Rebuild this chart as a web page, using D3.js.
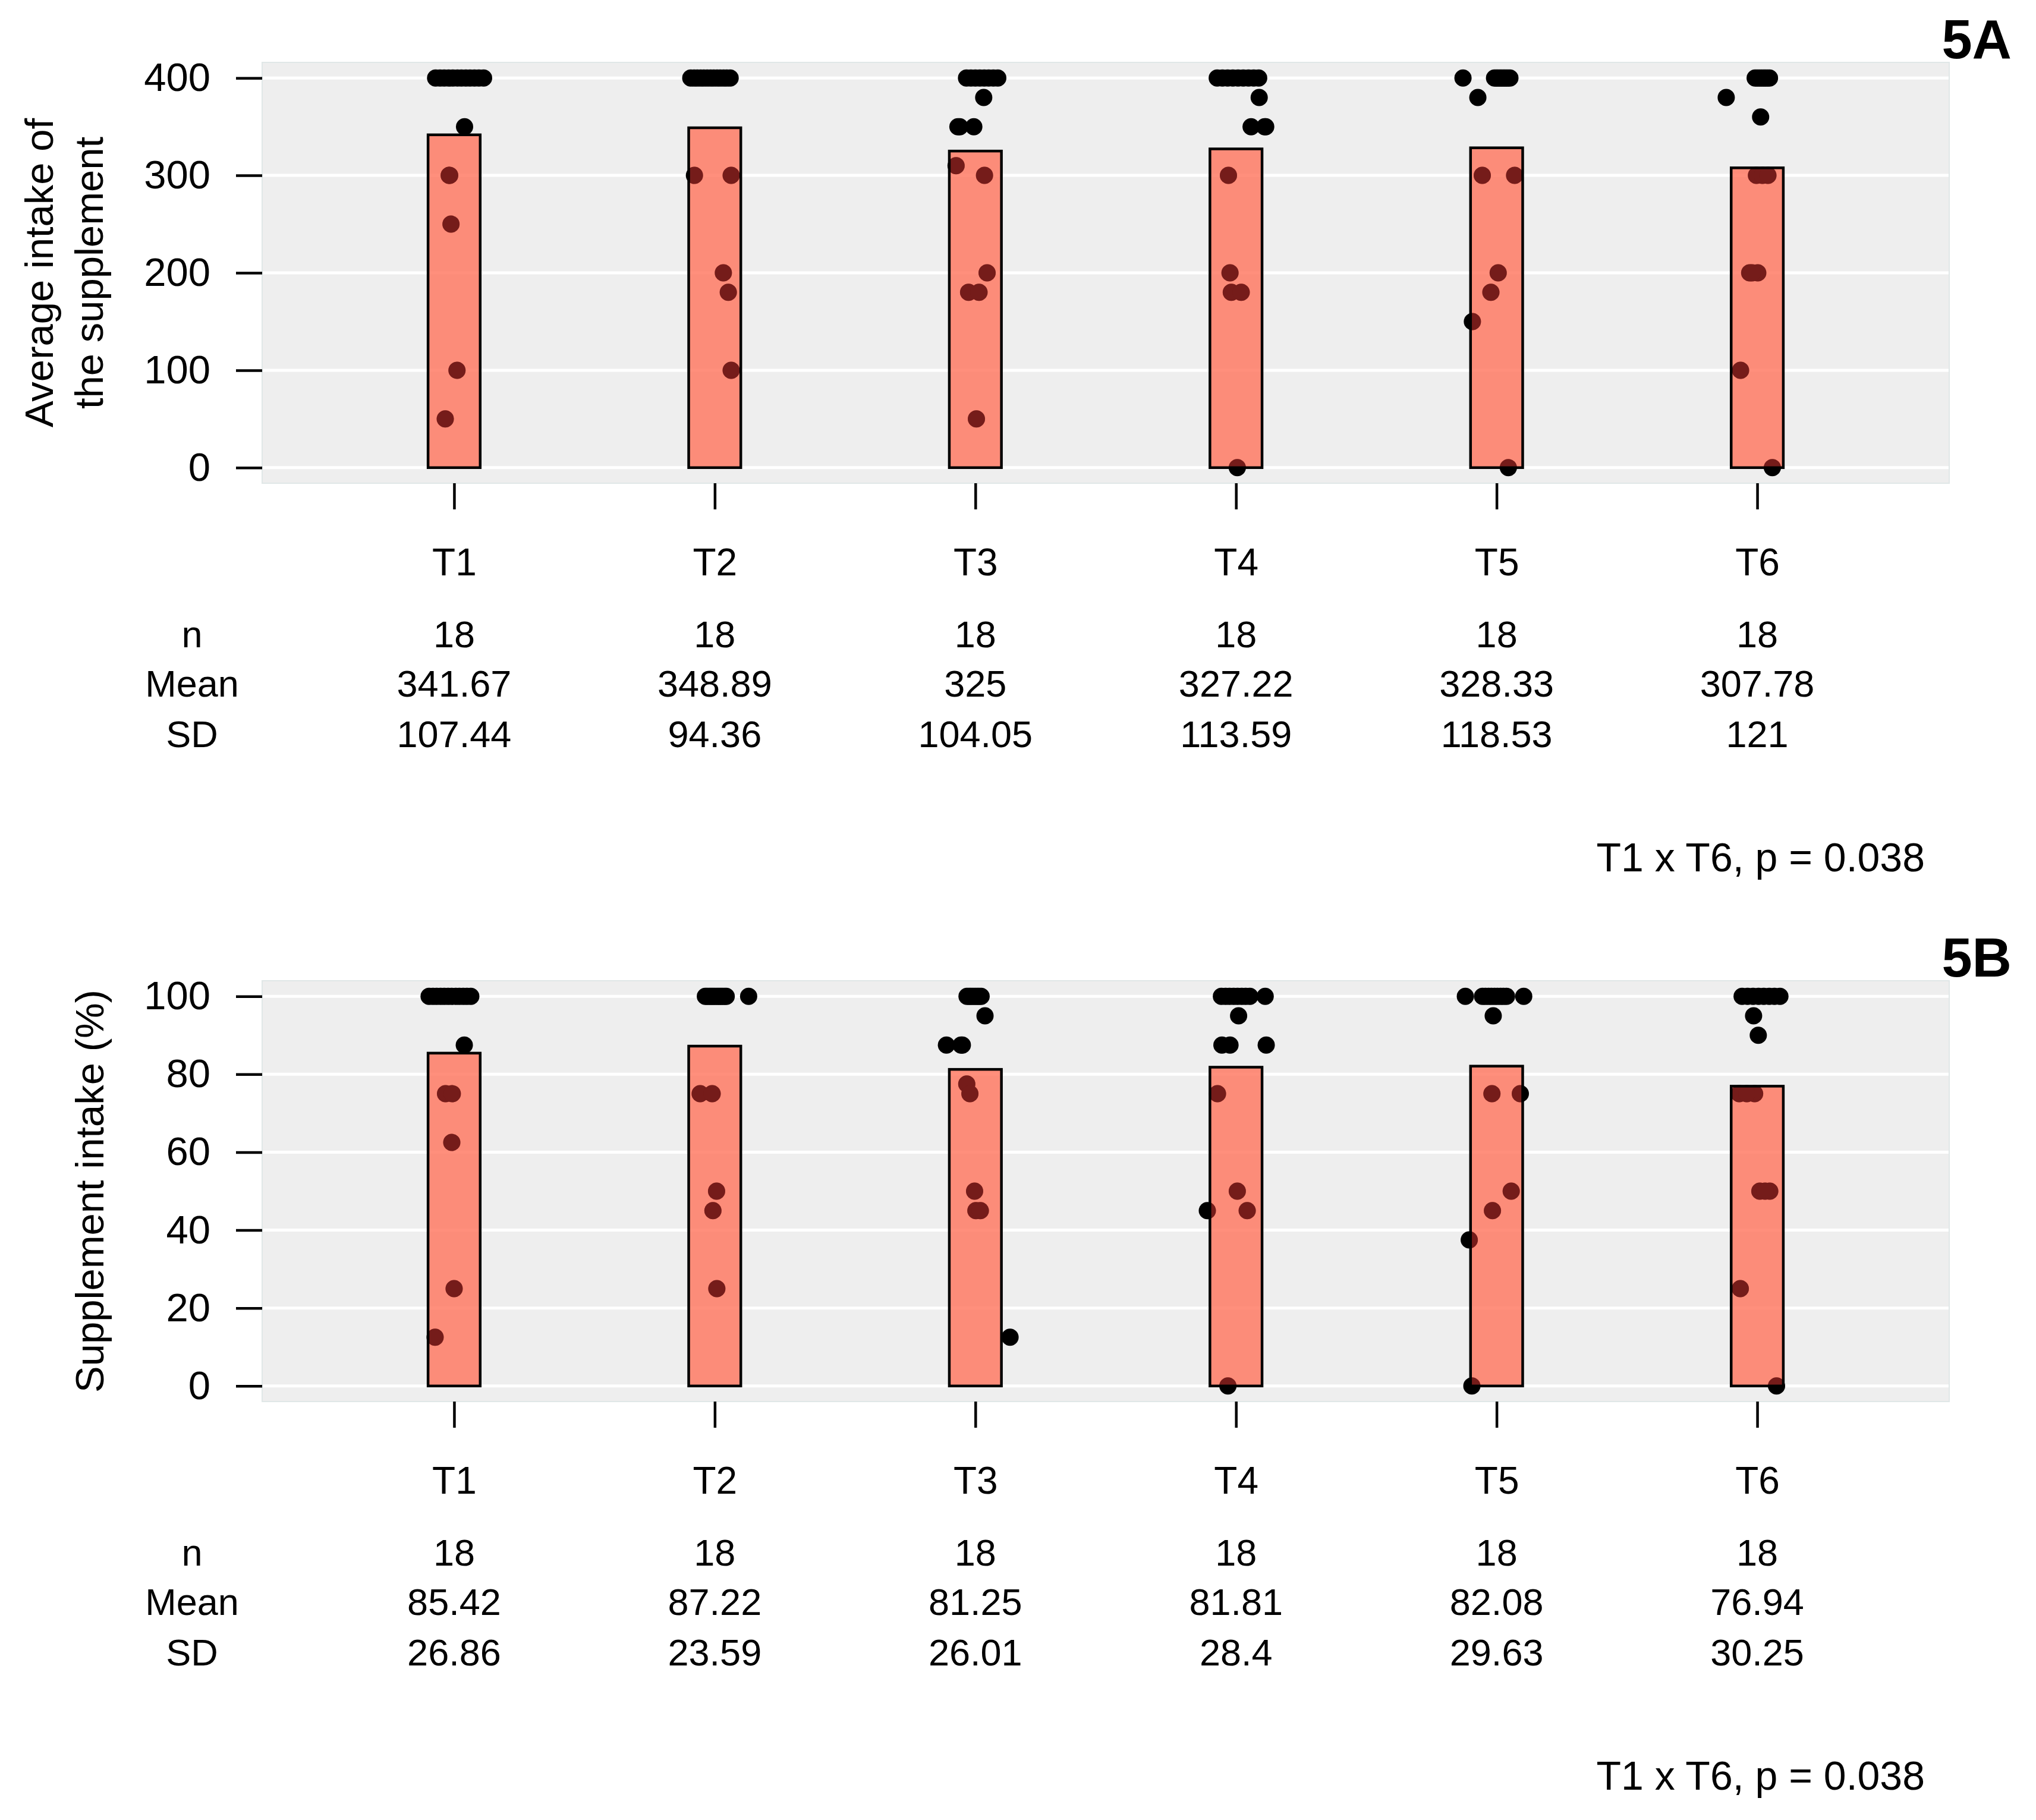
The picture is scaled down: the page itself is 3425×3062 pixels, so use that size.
<!DOCTYPE html>
<html><head><meta charset="utf-8">
<script src="https://cdn.jsdelivr.net/npm/d3@7"></script>
<style>
html,body{margin:0;padding:0;background:#fff;}
svg{display:block;}
text{font-family:"Liberation Sans",Arial,Helvetica,sans-serif;fill:#000;}
</style>
</head><body>
<svg id="chart" width="3425" height="3062"></svg>
<script>
// ---------------- DATA ----------------
const groups = ["T1", "T2", "T3", "T4", "T5", "T6"];

// Panel 5A: average intake of the supplement (individual values per group)
const intakeValues = [
  [400,400,400,400,400,400,400,400,400,400,400,400,350,300,300,250,100,50],
  [400,400,400,400,400,400,400,400,400,400,400,400,400,300,300,200,180,100],
  [400,400,400,400,400,400,400,400,380,350,350,350,310,300,200,180,180,50],
  [400,400,400,400,400,400,400,400,400,380,350,350,350,300,200,180,180,0],
  [400,400,400,400,400,400,400,400,400,400,400,380,300,300,200,180,150,0],
  [400,400,400,400,400,400,400,400,380,360,300,300,300,200,200,200,100,0]
];
// horizontal jitter of each point (in category units)
const intakeJitter = [
  [-0.071,-0.054,-0.038,-0.021,-0.005,0.012,0.028,0.045,0.061,0.078,0.095,0.113,0.040,-0.019,-0.017,-0.012,0.011,-0.034],
  [-0.092,-0.079,-0.067,-0.054,-0.042,-0.029,-0.016,-0.004,0.009,0.021,0.034,0.046,0.059,-0.078,0.063,0.033,0.052,0.063],
  [-0.034,-0.017,0.000,0.017,0.034,0.051,0.069,0.086,0.032,-0.067,-0.006,-0.060,-0.074,0.035,0.045,-0.026,0.014,0.004],
  [-0.072,-0.052,-0.032,-0.012,0.008,0.028,0.048,0.068,0.087,0.089,0.058,0.114,0.110,-0.029,-0.023,-0.018,0.020,0.005],
  [-0.129,-0.008,-0.001,0.005,0.012,0.018,0.025,0.031,0.038,0.044,0.051,-0.072,-0.055,0.069,0.006,-0.022,-0.093,0.045],
  [-0.008,0.000,0.008,0.016,0.024,0.031,0.039,0.047,-0.119,0.013,-0.003,0.020,0.041,-0.029,0.002,-0.020,-0.064,0.058]
];
const intakeN = [18, 18, 18, 18, 18, 18];
const intakeMean = [341.67, 348.89, 325, 327.22, 328.33, 307.78];
const intakeSD = [107.44, 94.36, 104.05, 113.59, 118.53, 121];
const intakeTicks = [0, 100, 200, 300, 400];

// Panel 5B: supplement intake (%)
const pctValues = [
  [100,100,100,100,100,100,100,100,100,100,100,100,87.5,75,75,62.5,25,12.5],
  [100,100,100,100,100,100,100,100,100,100,100,100,100,75,75,50,45,25],
  [100,100,100,100,100,100,100,100,95,87.5,87.5,87.5,77.5,75,50,45,45,12.5],
  [100,100,100,100,100,100,100,100,100,95,87.5,87.5,87.5,75,50,45,45,0],
  [100,100,100,100,100,100,100,100,100,100,100,95,75,75,50,45,37.5,0],
  [100,100,100,100,100,100,100,100,95,90,75,75,75,50,50,50,25,0]
];
const pctJitter = [
  [-0.096,-0.081,-0.067,-0.052,-0.038,-0.023,-0.009,0.006,0.020,0.035,0.049,0.064,0.039,-0.033,-0.007,-0.009,0.000,-0.073],
  [-0.036,-0.029,-0.021,-0.014,-0.007,0.000,0.008,0.015,0.022,0.029,0.037,0.044,0.130,-0.056,-0.010,0.007,-0.007,0.008],
  [-0.032,-0.024,-0.017,-0.009,-0.001,0.007,0.014,0.022,0.037,-0.111,-0.055,-0.050,-0.033,-0.021,-0.003,0.002,0.019,0.133],
  [-0.056,-0.040,-0.025,-0.009,0.006,0.022,0.037,0.053,0.112,0.010,-0.054,-0.023,0.116,-0.071,0.005,-0.110,0.043,-0.031],
  [-0.120,-0.054,-0.043,-0.031,-0.020,-0.008,0.003,0.015,0.026,0.038,0.104,-0.013,-0.018,0.091,0.056,-0.016,-0.105,-0.095],
  [-0.058,-0.037,-0.016,0.005,0.025,0.046,0.066,0.087,-0.014,0.004,-0.069,-0.010,-0.040,0.010,0.048,0.030,-0.065,0.074]
];
const pctN = [18, 18, 18, 18, 18, 18];
const pctMean = [85.42, 87.22, 81.25, 81.81, 82.08, 76.94];
const pctSD = [26.86, 23.59, 26.01, 28.4, 29.63, 30.25];
const pctTicks = [0, 20, 40, 60, 80, 100];

const statLabels = ["n", "Mean", "SD"];
const pText = "T1 x T6, p = 0.038";

// ---------------- LAYOUT ----------------
const svg = d3.select("#chart");
const X0 = 441, X1 = 3279, H = 708;
const x = d3.scaleLinear().domain([1 - 0.7366, 6 + 0.7366]).range([X0, X1]);
const barHalf = 0.1;
const R = 14.5;

function drawPanel(o) {
  const g = svg.append("g");
  const y0 = o.top;
  const y = d3.scaleLinear().domain(o.yDomain).range([y0 + H, y0]);

  g.append("rect").attr("x", X0).attr("y", y0).attr("width", X1 - X0).attr("height", H)
    .attr("fill", "#eeeeee").attr("stroke", "#e0e7e7").attr("stroke-width", 2);

  g.selectAll("line.grid").data(o.ticks).join("line").attr("class", "grid")
    .attr("x1", X0 + 1).attr("x2", X1 - 1).attr("y1", d => y(d)).attr("y2", d => y(d))
    .attr("stroke", "#ffffff").attr("stroke-width", 5);

  // y axis
  const ya = g.append("g").attr("transform", `translate(${X0},0)`)
    .call(d3.axisLeft(y).tickValues(o.ticks).tickSize(44).tickPadding(43).tickFormat(d3.format("d")));
  ya.select(".domain").remove();
  ya.selectAll(".tick line").attr("stroke", "#000").attr("stroke-width", 4.5);
  ya.selectAll(".tick text").attr("font-size", 67).attr("fill", "#000")
    .style("font-family", '"Liberation Sans",Arial,Helvetica,sans-serif');

  // x axis
  const xa = g.append("g").attr("transform", `translate(0,${y0 + H})`)
    .call(d3.axisBottom(x).tickValues([1, 2, 3, 4, 5, 6]).tickSize(44).tickPadding(66)
      .tickFormat(d => groups[d - 1]));
  xa.select(".domain").remove();
  xa.selectAll(".tick line").attr("stroke", "#000").attr("stroke-width", 4.5);
  xa.selectAll(".tick text").attr("font-size", 64).attr("fill", "#000")
    .style("font-family", '"Liberation Sans",Arial,Helvetica,sans-serif');

  // flatten points
  const pts = [];
  o.values.forEach((arr, i) => arr.forEach((v, j) => pts.push({ g: i + 1, v: v, jx: o.jitter[i][j] })));

  const clipId = "clip" + o.id;
  const clip = g.append("clipPath").attr("id", clipId);
  clip.selectAll("rect").data(o.means).join("rect")
    .attr("x", (d, i) => x(i + 1 - barHalf)).attr("y", d => y(d))
    .attr("width", (d, i) => x(i + 1 + barHalf) - x(i + 1 - barHalf))
    .attr("height", d => y(0) - y(d));

  // black points
  g.append("g").selectAll("circle").data(pts).join("circle")
    .attr("cx", d => x(d.g + d.jx)).attr("cy", d => y(d.v)).attr("r", R).attr("fill", "#000");

  // bar fill
  g.append("g").selectAll("rect").data(o.means).join("rect")
    .attr("x", (d, i) => x(i + 1 - barHalf)).attr("y", d => y(d))
    .attr("width", (d, i) => x(i + 1 + barHalf) - x(i + 1 - barHalf))
    .attr("height", d => y(0) - y(d))
    .attr("fill", "rgb(255,118,95)").attr("fill-opacity", 0.82);

  // points seen through bars
  g.append("g").attr("clip-path", `url(#${clipId})`).selectAll("circle").data(pts).join("circle")
    .attr("cx", d => x(d.g + d.jx)).attr("cy", d => y(d.v)).attr("r", R).attr("fill", "#751c1a");

  // bar outline
  g.append("g").selectAll("rect").data(o.means).join("rect")
    .attr("x", (d, i) => x(i + 1 - barHalf)).attr("y", d => y(d))
    .attr("width", (d, i) => x(i + 1 + barHalf) - x(i + 1 - barHalf))
    .attr("height", d => y(0) - y(d))
    .attr("fill", "none").attr("stroke", "#000").attr("stroke-width", 4.5);

  // y title
  const yc = y0 + H / 2;
  o.yTitle.forEach((line, k) => {
    g.append("text").attr("transform", `translate(${o.yTitleX[k]},${yc}) rotate(-90)`)
      .attr("text-anchor", "middle").attr("font-size", 67).text(line);
  });

  // panel letter
  g.append("text").attr("x", 3384).attr("y", y0 - 7).attr("text-anchor", "end")
    .attr("font-size", 92).attr("font-weight", "bold").text(o.letter);

  // stats table
  const base = y0 + H;
  const rowY = [276, 359, 444];
  const rows = [o.n.map(String), o.means.map(String), o.sds.map(String)];
  statLabels.forEach((lab, r) => {
    g.append("text").attr("x", 323).attr("y", base + rowY[r]).attr("text-anchor", "middle")
      .attr("font-size", 63).text(lab);
    g.append("g").selectAll("text").data(rows[r]).join("text")
      .attr("x", (d, i) => x(i + 1)).attr("y", base + rowY[r]).attr("text-anchor", "middle")
      .attr("font-size", 63).text(d => d);
  });

  g.append("text").attr("x", 3238).attr("y", base + 653).attr("text-anchor", "end")
    .attr("font-size", 68).text(pText);
}

drawPanel({
  id: "A", top: 105, yDomain: [-16, 416], ticks: intakeTicks,
  values: intakeValues, jitter: intakeJitter, means: intakeMean, sds: intakeSD, n: intakeN,
  yTitle: ["Average intake of", "the supplement"], yTitleX: [89, 173], letter: "5A"
});
drawPanel({
  id: "B", top: 1650, yDomain: [-4, 104], ticks: pctTicks,
  values: pctValues, jitter: pctJitter, means: pctMean, sds: pctSD, n: pctN,
  yTitle: ["Supplement intake (%)"], yTitleX: [174], letter: "5B"
});
</script>
</body></html>
